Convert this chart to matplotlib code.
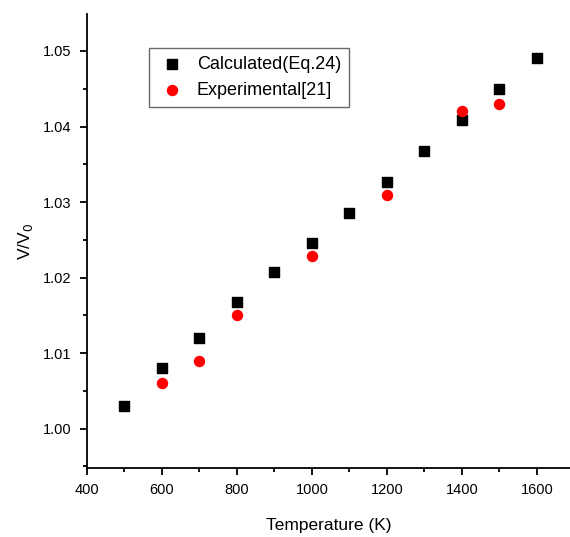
import matplotlib.pyplot as plt
from matplotlib.ticker import MultipleLocator

plt.rcParams['font.family'] = ['Liberation Sans', 'DejaVu Sans']

# Calculated (Eq.24)
calc_T = [500, 600, 700, 800, 900, 1000, 1100, 1200, 1300, 1400, 1500, 1600]
calc_V = [1.003, 1.008, 1.012, 1.0168, 1.0207, 1.0246, 1.0286, 1.0326, 1.0367, 1.0408, 1.0450, 1.0491]

# Experimental [21]
exp_T = [600, 700, 800, 1000, 1200, 1400, 1500]
exp_V = [1.006, 1.009, 1.015, 1.0229, 1.031, 1.0420, 1.0430]

fig = plt.figure(figsize=(5.70, 5.37), dpi=100)
ax = fig.add_axes([0.1526, 0.1285, 0.8474, 0.8455])

ax.scatter(calc_T, calc_V, marker='s', s=42, color='black', label='Calculated(Eq.24)', zorder=3)
ax.scatter(exp_T, exp_V, marker='o', s=52, color='red', label='Experimental[21]', zorder=3)

ax.set_xlim(400, 1688)
ax.set_ylim(0.9948, 1.0549)

ax.xaxis.set_major_locator(MultipleLocator(200))
ax.xaxis.set_minor_locator(MultipleLocator(100))
ax.yaxis.set_major_locator(MultipleLocator(0.01))
ax.yaxis.set_minor_locator(MultipleLocator(0.005))
ax.yaxis.set_major_formatter(plt.FormatStrFormatter('%.2f'))

ax.spines['top'].set_visible(False)
ax.spines['right'].set_visible(False)
ax.spines['left'].set_linewidth(1.3)
ax.spines['bottom'].set_linewidth(1.3)
ax.tick_params(which='major', direction='out', length=5, width=1.3, labelsize=10.5, pad=6)
ax.tick_params(which='minor', direction='out', length=3, width=1.3)

ax.set_xlabel('Temperature (K)', fontsize=12.5, labelpad=15)
ax.set_ylabel('V/V$_0$', fontsize=12.5, labelpad=6)

leg = ax.legend(loc='upper left', bbox_to_anchor=(0.11, 0.945), fontsize=13,
                fancybox=False, edgecolor='#444444', handletextpad=0.6,
                borderpad=0.45, labelspacing=0.5, scatterpoints=1,
                handlelength=1.6)
leg.get_frame().set_linewidth(1.0)

fig.savefig('out.png', dpi=100)
